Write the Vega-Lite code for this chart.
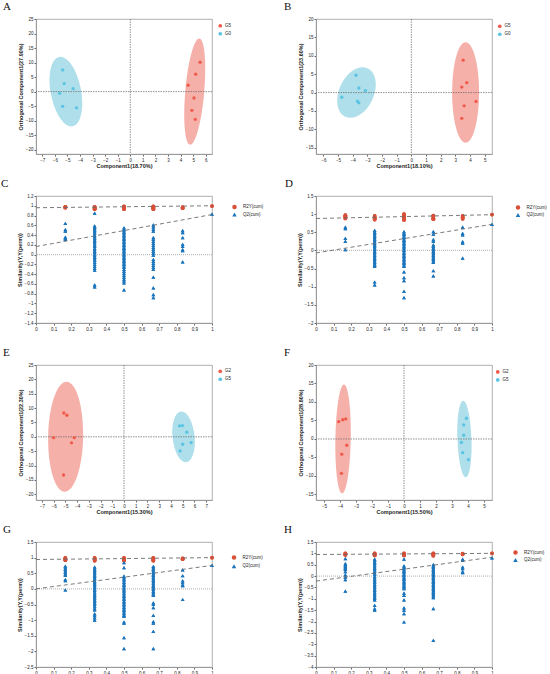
{
  "$schema": "https://vega.github.io/schema/vega-lite/v6.json",
  "description": "OPLS-DA score plots (A, B, E, F) and permutation tests (C, D, G, H).",
  "padding": {"left": 0, "top": 0, "right": 0, "bottom": 0},
  "columns": 2,
  "bounds": "flush",
  "spacing": {"row": 42, "column": 104},
  "resolve": {
    "scale": {"x": "independent", "y": "independent", "color": "independent", "shape": "independent"},
    "axis": {"x": "independent", "y": "independent"},
    "legend": {"color": "independent", "shape": "independent"}
  },
  "datasets": {
    "scores": [
      {"panel": "A", "group": "G5", "x": 5.55, "y": 10.1},
      {"panel": "A", "group": "G5", "x": 5.2, "y": 6.0},
      {"panel": "A", "group": "G5", "x": 4.6, "y": 2.2},
      {"panel": "A", "group": "G5", "x": 5.07, "y": -2.2},
      {"panel": "A", "group": "G5", "x": 4.9, "y": -6.45},
      {"panel": "A", "group": "G5", "x": 5.17, "y": -9.55},
      {"panel": "A", "group": "G0", "x": -5.38, "y": 7.45},
      {"panel": "A", "group": "G0", "x": -5.26, "y": 2.75},
      {"panel": "A", "group": "G0", "x": -4.55, "y": 1.0},
      {"panel": "A", "group": "G0", "x": -5.62, "y": -0.6},
      {"panel": "A", "group": "G0", "x": -5.38, "y": -5.07},
      {"panel": "A", "group": "G0", "x": -4.28, "y": -5.6},
      {"panel": "B", "group": "G5", "x": 3.53, "y": 8.8},
      {"panel": "B", "group": "G5", "x": 3.78, "y": 2.7},
      {"panel": "B", "group": "G5", "x": 3.44, "y": 1.5},
      {"panel": "B", "group": "G5", "x": 4.41, "y": -2.4},
      {"panel": "B", "group": "G5", "x": 3.6, "y": -3.6},
      {"panel": "B", "group": "G5", "x": 3.44, "y": -7.0},
      {"panel": "B", "group": "G0", "x": -3.77, "y": 4.7},
      {"panel": "B", "group": "G0", "x": -3.58, "y": 1.25},
      {"panel": "B", "group": "G0", "x": -3.13, "y": 0.55},
      {"panel": "B", "group": "G0", "x": -4.74, "y": -1.27},
      {"panel": "B", "group": "G0", "x": -3.67, "y": -2.35},
      {"panel": "B", "group": "G0", "x": -3.58, "y": -2.8},
      {"panel": "E", "group": "G2", "x": -5.13, "y": 8.3},
      {"panel": "E", "group": "G2", "x": -4.87, "y": 7.5},
      {"panel": "E", "group": "G2", "x": -6.0, "y": -0.3},
      {"panel": "E", "group": "G2", "x": -4.24, "y": -0.3},
      {"panel": "E", "group": "G2", "x": -4.47, "y": -2.1},
      {"panel": "E", "group": "G2", "x": -5.15, "y": -13.3},
      {"panel": "E", "group": "G5", "x": 4.73, "y": 3.8},
      {"panel": "E", "group": "G5", "x": 4.98, "y": 3.9},
      {"panel": "E", "group": "G5", "x": 5.35, "y": 1.6},
      {"panel": "E", "group": "G5", "x": 5.72, "y": -2.0},
      {"panel": "E", "group": "G5", "x": 5.0, "y": -2.6},
      {"panel": "E", "group": "G5", "x": 4.78, "y": -4.9},
      {"panel": "F", "group": "G2", "x": -4.08, "y": 4.7},
      {"panel": "F", "group": "G2", "x": -3.83, "y": 5.2},
      {"panel": "F", "group": "G2", "x": -3.64, "y": 5.4},
      {"panel": "F", "group": "G2", "x": -3.58, "y": -1.7},
      {"panel": "F", "group": "G2", "x": -3.89, "y": -4.1},
      {"panel": "F", "group": "G2", "x": -3.91, "y": -9.3},
      {"panel": "F", "group": "G5", "x": 3.9, "y": 5.6},
      {"panel": "F", "group": "G5", "x": 3.73, "y": 3.8},
      {"panel": "F", "group": "G5", "x": 3.73, "y": 1.0},
      {"panel": "F", "group": "G5", "x": 3.59, "y": -0.95},
      {"panel": "F", "group": "G5", "x": 3.67, "y": -3.7},
      {"panel": "F", "group": "G5", "x": 4.02, "y": -5.6}
    ],
    "ellipses": [
      {"panel": "A", "group": "G5", "x": 5.13, "y": 0},
      {"panel": "A", "group": "G0", "x": -5.12, "y": 0},
      {"panel": "B", "group": "G5", "x": 3.7, "y": 0},
      {"panel": "B", "group": "G0", "x": -3.74, "y": 0},
      {"panel": "E", "group": "G2", "x": -4.97, "y": 0},
      {"panel": "E", "group": "G5", "x": 5.08, "y": 0},
      {"panel": "F", "group": "G2", "x": -3.81, "y": 0},
      {"panel": "F", "group": "G5", "x": 3.78, "y": 0}
    ],
    "fits": [
      {"panel": "C", "series": "R2Y(cum)", "x": 0, "y": 0.96},
      {"panel": "C", "series": "R2Y(cum)", "x": 1, "y": 1.0},
      {"panel": "C", "series": "Q2(cum)", "x": 0, "y": 0.165},
      {"panel": "C", "series": "Q2(cum)", "x": 1, "y": 0.82},
      {"panel": "D", "series": "R2Y(cum)", "x": 0, "y": 0.88},
      {"panel": "D", "series": "R2Y(cum)", "x": 1, "y": 0.985},
      {"panel": "D", "series": "Q2(cum)", "x": 0, "y": -0.07},
      {"panel": "D", "series": "Q2(cum)", "x": 1, "y": 0.72},
      {"panel": "G", "series": "R2Y(cum)", "x": 0, "y": 0.94},
      {"panel": "G", "series": "R2Y(cum)", "x": 1, "y": 1.0},
      {"panel": "G", "series": "Q2(cum)", "x": 0, "y": 0.0},
      {"panel": "G", "series": "Q2(cum)", "x": 1, "y": 0.75},
      {"panel": "H", "series": "R2Y(cum)", "x": 0, "y": 0.95},
      {"panel": "H", "series": "R2Y(cum)", "x": 1, "y": 1.0},
      {"panel": "H", "series": "Q2(cum)", "x": 0, "y": -0.22},
      {"panel": "H", "series": "Q2(cum)", "x": 1, "y": 0.83}
    ],
    "perm": [
      {"panel": "C", "series": "R2Y(cum)", "x": 0.1667, "y": 0.98},
      {"panel": "C", "series": "R2Y(cum)", "x": 0.1667, "y": 0.97},
      {"panel": "C", "series": "R2Y(cum)", "x": 0.1667, "y": 0.96},
      {"panel": "C", "series": "R2Y(cum)", "x": 0.3333, "y": 0.98},
      {"panel": "C", "series": "R2Y(cum)", "x": 0.3333, "y": 0.96},
      {"panel": "C", "series": "R2Y(cum)", "x": 0.3333, "y": 0.95},
      {"panel": "C", "series": "R2Y(cum)", "x": 0.3333, "y": 0.93},
      {"panel": "C", "series": "R2Y(cum)", "x": 0.5, "y": 0.99},
      {"panel": "C", "series": "R2Y(cum)", "x": 0.5, "y": 0.97},
      {"panel": "C", "series": "R2Y(cum)", "x": 0.5, "y": 0.95},
      {"panel": "C", "series": "R2Y(cum)", "x": 0.5, "y": 0.93},
      {"panel": "C", "series": "R2Y(cum)", "x": 0.6667, "y": 0.99},
      {"panel": "C", "series": "R2Y(cum)", "x": 0.6667, "y": 0.97},
      {"panel": "C", "series": "R2Y(cum)", "x": 0.6667, "y": 0.95},
      {"panel": "C", "series": "R2Y(cum)", "x": 0.6667, "y": 0.93},
      {"panel": "C", "series": "R2Y(cum)", "x": 0.8333, "y": 0.97},
      {"panel": "C", "series": "R2Y(cum)", "x": 0.8333, "y": 0.95},
      {"panel": "C", "series": "R2Y(cum)", "x": 1, "y": 0.995},
      {"panel": "C", "series": "Q2(cum)", "x": 0.1667, "y": 0.64},
      {"panel": "C", "series": "Q2(cum)", "x": 0.1667, "y": 0.51},
      {"panel": "C", "series": "Q2(cum)", "x": 0.1667, "y": 0.48},
      {"panel": "C", "series": "Q2(cum)", "x": 0.1667, "y": 0.36},
      {"panel": "C", "series": "Q2(cum)", "x": 0.1667, "y": 0.33},
      {"panel": "C", "series": "Q2(cum)", "x": 0.1667, "y": 0.31},
      {"panel": "C", "series": "Q2(cum)", "x": 0.3333, "y": 0.85},
      {"panel": "C", "series": "Q2(cum)", "x": 0.3333, "y": 0.59},
      {"panel": "C", "series": "Q2(cum)", "x": 0.3333, "y": 0.56},
      {"panel": "C", "series": "Q2(cum)", "x": 0.3333, "y": 0.53},
      {"panel": "C", "series": "Q2(cum)", "x": 0.3333, "y": 0.5},
      {"panel": "C", "series": "Q2(cum)", "x": 0.3333, "y": 0.47},
      {"panel": "C", "series": "Q2(cum)", "x": 0.3333, "y": 0.44},
      {"panel": "C", "series": "Q2(cum)", "x": 0.3333, "y": 0.4},
      {"panel": "C", "series": "Q2(cum)", "x": 0.3333, "y": 0.37},
      {"panel": "C", "series": "Q2(cum)", "x": 0.3333, "y": 0.34},
      {"panel": "C", "series": "Q2(cum)", "x": 0.3333, "y": 0.3},
      {"panel": "C", "series": "Q2(cum)", "x": 0.3333, "y": 0.27},
      {"panel": "C", "series": "Q2(cum)", "x": 0.3333, "y": 0.24},
      {"panel": "C", "series": "Q2(cum)", "x": 0.3333, "y": 0.2},
      {"panel": "C", "series": "Q2(cum)", "x": 0.3333, "y": 0.17},
      {"panel": "C", "series": "Q2(cum)", "x": 0.3333, "y": 0.13},
      {"panel": "C", "series": "Q2(cum)", "x": 0.3333, "y": 0.1},
      {"panel": "C", "series": "Q2(cum)", "x": 0.3333, "y": 0.07},
      {"panel": "C", "series": "Q2(cum)", "x": 0.3333, "y": 0.04},
      {"panel": "C", "series": "Q2(cum)", "x": 0.3333, "y": 0.01},
      {"panel": "C", "series": "Q2(cum)", "x": 0.3333, "y": -0.02},
      {"panel": "C", "series": "Q2(cum)", "x": 0.3333, "y": -0.05},
      {"panel": "C", "series": "Q2(cum)", "x": 0.3333, "y": -0.08},
      {"panel": "C", "series": "Q2(cum)", "x": 0.3333, "y": -0.12},
      {"panel": "C", "series": "Q2(cum)", "x": 0.3333, "y": -0.16},
      {"panel": "C", "series": "Q2(cum)", "x": 0.3333, "y": -0.2},
      {"panel": "C", "series": "Q2(cum)", "x": 0.3333, "y": -0.24},
      {"panel": "C", "series": "Q2(cum)", "x": 0.3333, "y": -0.28},
      {"panel": "C", "series": "Q2(cum)", "x": 0.3333, "y": -0.32},
      {"panel": "C", "series": "Q2(cum)", "x": 0.3333, "y": -0.62},
      {"panel": "C", "series": "Q2(cum)", "x": 0.3333, "y": -0.66},
      {"panel": "C", "series": "Q2(cum)", "x": 0.5, "y": 0.55},
      {"panel": "C", "series": "Q2(cum)", "x": 0.5, "y": 0.52},
      {"panel": "C", "series": "Q2(cum)", "x": 0.5, "y": 0.49},
      {"panel": "C", "series": "Q2(cum)", "x": 0.5, "y": 0.46},
      {"panel": "C", "series": "Q2(cum)", "x": 0.5, "y": 0.43},
      {"panel": "C", "series": "Q2(cum)", "x": 0.5, "y": 0.4},
      {"panel": "C", "series": "Q2(cum)", "x": 0.5, "y": 0.37},
      {"panel": "C", "series": "Q2(cum)", "x": 0.5, "y": 0.34},
      {"panel": "C", "series": "Q2(cum)", "x": 0.5, "y": 0.31},
      {"panel": "C", "series": "Q2(cum)", "x": 0.5, "y": 0.28},
      {"panel": "C", "series": "Q2(cum)", "x": 0.5, "y": 0.25},
      {"panel": "C", "series": "Q2(cum)", "x": 0.5, "y": 0.22},
      {"panel": "C", "series": "Q2(cum)", "x": 0.5, "y": 0.19},
      {"panel": "C", "series": "Q2(cum)", "x": 0.5, "y": 0.16},
      {"panel": "C", "series": "Q2(cum)", "x": 0.5, "y": 0.13},
      {"panel": "C", "series": "Q2(cum)", "x": 0.5, "y": 0.1},
      {"panel": "C", "series": "Q2(cum)", "x": 0.5, "y": 0.07},
      {"panel": "C", "series": "Q2(cum)", "x": 0.5, "y": 0.04},
      {"panel": "C", "series": "Q2(cum)", "x": 0.5, "y": 0.01},
      {"panel": "C", "series": "Q2(cum)", "x": 0.5, "y": -0.02},
      {"panel": "C", "series": "Q2(cum)", "x": 0.5, "y": -0.05},
      {"panel": "C", "series": "Q2(cum)", "x": 0.5, "y": -0.08},
      {"panel": "C", "series": "Q2(cum)", "x": 0.5, "y": -0.11},
      {"panel": "C", "series": "Q2(cum)", "x": 0.5, "y": -0.14},
      {"panel": "C", "series": "Q2(cum)", "x": 0.5, "y": -0.17},
      {"panel": "C", "series": "Q2(cum)", "x": 0.5, "y": -0.2},
      {"panel": "C", "series": "Q2(cum)", "x": 0.5, "y": -0.23},
      {"panel": "C", "series": "Q2(cum)", "x": 0.5, "y": -0.26},
      {"panel": "C", "series": "Q2(cum)", "x": 0.5, "y": -0.3},
      {"panel": "C", "series": "Q2(cum)", "x": 0.5, "y": -0.34},
      {"panel": "C", "series": "Q2(cum)", "x": 0.5, "y": -0.38},
      {"panel": "C", "series": "Q2(cum)", "x": 0.5, "y": -0.42},
      {"panel": "C", "series": "Q2(cum)", "x": 0.5, "y": -0.46},
      {"panel": "C", "series": "Q2(cum)", "x": 0.5, "y": -0.5},
      {"panel": "C", "series": "Q2(cum)", "x": 0.5, "y": -0.54},
      {"panel": "C", "series": "Q2(cum)", "x": 0.5, "y": -0.58},
      {"panel": "C", "series": "Q2(cum)", "x": 0.5, "y": -0.72},
      {"panel": "C", "series": "Q2(cum)", "x": 0.6667, "y": 0.61},
      {"panel": "C", "series": "Q2(cum)", "x": 0.6667, "y": 0.57},
      {"panel": "C", "series": "Q2(cum)", "x": 0.6667, "y": 0.52},
      {"panel": "C", "series": "Q2(cum)", "x": 0.6667, "y": 0.48},
      {"panel": "C", "series": "Q2(cum)", "x": 0.6667, "y": 0.35},
      {"panel": "C", "series": "Q2(cum)", "x": 0.6667, "y": 0.31},
      {"panel": "C", "series": "Q2(cum)", "x": 0.6667, "y": 0.27},
      {"panel": "C", "series": "Q2(cum)", "x": 0.6667, "y": 0.23},
      {"panel": "C", "series": "Q2(cum)", "x": 0.6667, "y": 0.19},
      {"panel": "C", "series": "Q2(cum)", "x": 0.6667, "y": 0.15},
      {"panel": "C", "series": "Q2(cum)", "x": 0.6667, "y": 0.11},
      {"panel": "C", "series": "Q2(cum)", "x": 0.6667, "y": 0.07},
      {"panel": "C", "series": "Q2(cum)", "x": 0.6667, "y": 0.03},
      {"panel": "C", "series": "Q2(cum)", "x": 0.6667, "y": -0.01},
      {"panel": "C", "series": "Q2(cum)", "x": 0.6667, "y": -0.1},
      {"panel": "C", "series": "Q2(cum)", "x": 0.6667, "y": -0.14},
      {"panel": "C", "series": "Q2(cum)", "x": 0.6667, "y": -0.18},
      {"panel": "C", "series": "Q2(cum)", "x": 0.6667, "y": -0.22},
      {"panel": "C", "series": "Q2(cum)", "x": 0.6667, "y": -0.26},
      {"panel": "C", "series": "Q2(cum)", "x": 0.6667, "y": -0.3},
      {"panel": "C", "series": "Q2(cum)", "x": 0.6667, "y": -0.46},
      {"panel": "C", "series": "Q2(cum)", "x": 0.6667, "y": -0.68},
      {"panel": "C", "series": "Q2(cum)", "x": 0.6667, "y": -0.82},
      {"panel": "C", "series": "Q2(cum)", "x": 0.6667, "y": -0.88},
      {"panel": "C", "series": "Q2(cum)", "x": 0.8333, "y": 0.49},
      {"panel": "C", "series": "Q2(cum)", "x": 0.8333, "y": 0.45},
      {"panel": "C", "series": "Q2(cum)", "x": 0.8333, "y": 0.35},
      {"panel": "C", "series": "Q2(cum)", "x": 0.8333, "y": 0.21},
      {"panel": "C", "series": "Q2(cum)", "x": 0.8333, "y": 0.17},
      {"panel": "C", "series": "Q2(cum)", "x": 0.8333, "y": 0.1},
      {"panel": "C", "series": "Q2(cum)", "x": 0.8333, "y": 0.08},
      {"panel": "C", "series": "Q2(cum)", "x": 0.8333, "y": -0.15},
      {"panel": "C", "series": "Q2(cum)", "x": 1, "y": 0.83},

      {"panel": "D", "series": "R2Y(cum)", "x": 0.1667, "y": 0.97},
      {"panel": "D", "series": "R2Y(cum)", "x": 0.1667, "y": 0.94},
      {"panel": "D", "series": "R2Y(cum)", "x": 0.1667, "y": 0.91},
      {"panel": "D", "series": "R2Y(cum)", "x": 0.1667, "y": 0.88},
      {"panel": "D", "series": "R2Y(cum)", "x": 0.3333, "y": 0.95},
      {"panel": "D", "series": "R2Y(cum)", "x": 0.3333, "y": 0.91},
      {"panel": "D", "series": "R2Y(cum)", "x": 0.3333, "y": 0.88},
      {"panel": "D", "series": "R2Y(cum)", "x": 0.3333, "y": 0.85},
      {"panel": "D", "series": "R2Y(cum)", "x": 0.5, "y": 1.0},
      {"panel": "D", "series": "R2Y(cum)", "x": 0.5, "y": 0.96},
      {"panel": "D", "series": "R2Y(cum)", "x": 0.5, "y": 0.92},
      {"panel": "D", "series": "R2Y(cum)", "x": 0.5, "y": 0.88},
      {"panel": "D", "series": "R2Y(cum)", "x": 0.5, "y": 0.84},
      {"panel": "D", "series": "R2Y(cum)", "x": 0.6667, "y": 0.96},
      {"panel": "D", "series": "R2Y(cum)", "x": 0.6667, "y": 0.93},
      {"panel": "D", "series": "R2Y(cum)", "x": 0.6667, "y": 0.89},
      {"panel": "D", "series": "R2Y(cum)", "x": 0.6667, "y": 0.86},
      {"panel": "D", "series": "R2Y(cum)", "x": 0.8333, "y": 0.95},
      {"panel": "D", "series": "R2Y(cum)", "x": 0.8333, "y": 0.91},
      {"panel": "D", "series": "R2Y(cum)", "x": 0.8333, "y": 0.87},
      {"panel": "D", "series": "R2Y(cum)", "x": 1, "y": 0.99},
      {"panel": "D", "series": "Q2(cum)", "x": 0.1667, "y": 0.64},
      {"panel": "D", "series": "Q2(cum)", "x": 0.1667, "y": 0.6},
      {"panel": "D", "series": "Q2(cum)", "x": 0.1667, "y": 0.33},
      {"panel": "D", "series": "Q2(cum)", "x": 0.1667, "y": 0.25},
      {"panel": "D", "series": "Q2(cum)", "x": 0.1667, "y": 0.02},
      {"panel": "D", "series": "Q2(cum)", "x": 0.3333, "y": 0.55},
      {"panel": "D", "series": "Q2(cum)", "x": 0.3333, "y": 0.51},
      {"panel": "D", "series": "Q2(cum)", "x": 0.3333, "y": 0.47},
      {"panel": "D", "series": "Q2(cum)", "x": 0.3333, "y": 0.43},
      {"panel": "D", "series": "Q2(cum)", "x": 0.3333, "y": 0.39},
      {"panel": "D", "series": "Q2(cum)", "x": 0.3333, "y": 0.35},
      {"panel": "D", "series": "Q2(cum)", "x": 0.3333, "y": 0.31},
      {"panel": "D", "series": "Q2(cum)", "x": 0.3333, "y": 0.27},
      {"panel": "D", "series": "Q2(cum)", "x": 0.3333, "y": 0.23},
      {"panel": "D", "series": "Q2(cum)", "x": 0.3333, "y": 0.19},
      {"panel": "D", "series": "Q2(cum)", "x": 0.3333, "y": 0.15},
      {"panel": "D", "series": "Q2(cum)", "x": 0.3333, "y": 0.11},
      {"panel": "D", "series": "Q2(cum)", "x": 0.3333, "y": 0.07},
      {"panel": "D", "series": "Q2(cum)", "x": 0.3333, "y": 0.03},
      {"panel": "D", "series": "Q2(cum)", "x": 0.3333, "y": -0.01},
      {"panel": "D", "series": "Q2(cum)", "x": 0.3333, "y": -0.05},
      {"panel": "D", "series": "Q2(cum)", "x": 0.3333, "y": -0.09},
      {"panel": "D", "series": "Q2(cum)", "x": 0.3333, "y": -0.13},
      {"panel": "D", "series": "Q2(cum)", "x": 0.3333, "y": -0.17},
      {"panel": "D", "series": "Q2(cum)", "x": 0.3333, "y": -0.21},
      {"panel": "D", "series": "Q2(cum)", "x": 0.3333, "y": -0.25},
      {"panel": "D", "series": "Q2(cum)", "x": 0.3333, "y": -0.29},
      {"panel": "D", "series": "Q2(cum)", "x": 0.3333, "y": -0.33},
      {"panel": "D", "series": "Q2(cum)", "x": 0.3333, "y": -0.37},
      {"panel": "D", "series": "Q2(cum)", "x": 0.3333, "y": -0.41},
      {"panel": "D", "series": "Q2(cum)", "x": 0.3333, "y": -0.44},
      {"panel": "D", "series": "Q2(cum)", "x": 0.3333, "y": -0.87},
      {"panel": "D", "series": "Q2(cum)", "x": 0.3333, "y": -0.95},
      {"panel": "D", "series": "Q2(cum)", "x": 0.5, "y": 0.52},
      {"panel": "D", "series": "Q2(cum)", "x": 0.5, "y": 0.48},
      {"panel": "D", "series": "Q2(cum)", "x": 0.5, "y": 0.44},
      {"panel": "D", "series": "Q2(cum)", "x": 0.5, "y": 0.4},
      {"panel": "D", "series": "Q2(cum)", "x": 0.5, "y": 0.36},
      {"panel": "D", "series": "Q2(cum)", "x": 0.5, "y": 0.32},
      {"panel": "D", "series": "Q2(cum)", "x": 0.5, "y": 0.28},
      {"panel": "D", "series": "Q2(cum)", "x": 0.5, "y": 0.24},
      {"panel": "D", "series": "Q2(cum)", "x": 0.5, "y": 0.2},
      {"panel": "D", "series": "Q2(cum)", "x": 0.5, "y": 0.16},
      {"panel": "D", "series": "Q2(cum)", "x": 0.5, "y": 0.12},
      {"panel": "D", "series": "Q2(cum)", "x": 0.5, "y": 0.08},
      {"panel": "D", "series": "Q2(cum)", "x": 0.5, "y": 0.04},
      {"panel": "D", "series": "Q2(cum)", "x": 0.5, "y": 0.0},
      {"panel": "D", "series": "Q2(cum)", "x": 0.5, "y": -0.04},
      {"panel": "D", "series": "Q2(cum)", "x": 0.5, "y": -0.08},
      {"panel": "D", "series": "Q2(cum)", "x": 0.5, "y": -0.12},
      {"panel": "D", "series": "Q2(cum)", "x": 0.5, "y": -0.16},
      {"panel": "D", "series": "Q2(cum)", "x": 0.5, "y": -0.2},
      {"panel": "D", "series": "Q2(cum)", "x": 0.5, "y": -0.24},
      {"panel": "D", "series": "Q2(cum)", "x": 0.5, "y": -0.28},
      {"panel": "D", "series": "Q2(cum)", "x": 0.5, "y": -0.32},
      {"panel": "D", "series": "Q2(cum)", "x": 0.5, "y": -0.36},
      {"panel": "D", "series": "Q2(cum)", "x": 0.5, "y": -0.4},
      {"panel": "D", "series": "Q2(cum)", "x": 0.5, "y": -0.44},
      {"panel": "D", "series": "Q2(cum)", "x": 0.5, "y": -0.59},
      {"panel": "D", "series": "Q2(cum)", "x": 0.5, "y": -0.75},
      {"panel": "D", "series": "Q2(cum)", "x": 0.5, "y": -0.83},
      {"panel": "D", "series": "Q2(cum)", "x": 0.5, "y": -1.13},
      {"panel": "D", "series": "Q2(cum)", "x": 0.5, "y": -1.3},
      {"panel": "D", "series": "Q2(cum)", "x": 0.6667, "y": 0.52},
      {"panel": "D", "series": "Q2(cum)", "x": 0.6667, "y": 0.45},
      {"panel": "D", "series": "Q2(cum)", "x": 0.6667, "y": 0.3},
      {"panel": "D", "series": "Q2(cum)", "x": 0.6667, "y": 0.25},
      {"panel": "D", "series": "Q2(cum)", "x": 0.6667, "y": 0.15},
      {"panel": "D", "series": "Q2(cum)", "x": 0.6667, "y": 0.11},
      {"panel": "D", "series": "Q2(cum)", "x": 0.6667, "y": 0.07},
      {"panel": "D", "series": "Q2(cum)", "x": 0.6667, "y": 0.03},
      {"panel": "D", "series": "Q2(cum)", "x": 0.6667, "y": -0.01},
      {"panel": "D", "series": "Q2(cum)", "x": 0.6667, "y": -0.05},
      {"panel": "D", "series": "Q2(cum)", "x": 0.6667, "y": -0.09},
      {"panel": "D", "series": "Q2(cum)", "x": 0.6667, "y": -0.13},
      {"panel": "D", "series": "Q2(cum)", "x": 0.6667, "y": -0.17},
      {"panel": "D", "series": "Q2(cum)", "x": 0.6667, "y": -0.21},
      {"panel": "D", "series": "Q2(cum)", "x": 0.6667, "y": -0.25},
      {"panel": "D", "series": "Q2(cum)", "x": 0.6667, "y": -0.29},
      {"panel": "D", "series": "Q2(cum)", "x": 0.6667, "y": -0.33},
      {"panel": "D", "series": "Q2(cum)", "x": 0.6667, "y": -0.56},
      {"panel": "D", "series": "Q2(cum)", "x": 0.6667, "y": -0.7},
      {"panel": "D", "series": "Q2(cum)", "x": 0.8333, "y": 0.64},
      {"panel": "D", "series": "Q2(cum)", "x": 0.8333, "y": 0.47},
      {"panel": "D", "series": "Q2(cum)", "x": 0.8333, "y": 0.43},
      {"panel": "D", "series": "Q2(cum)", "x": 0.8333, "y": 0.24},
      {"panel": "D", "series": "Q2(cum)", "x": 0.8333, "y": 0.2},
      {"panel": "D", "series": "Q2(cum)", "x": 0.8333, "y": -0.21},
      {"panel": "D", "series": "Q2(cum)", "x": 1, "y": 0.72},

      {"panel": "G", "series": "R2Y(cum)", "x": 0.1667, "y": 0.99},
      {"panel": "G", "series": "R2Y(cum)", "x": 0.1667, "y": 0.97},
      {"panel": "G", "series": "R2Y(cum)", "x": 0.1667, "y": 0.94},
      {"panel": "G", "series": "R2Y(cum)", "x": 0.1667, "y": 0.92},
      {"panel": "G", "series": "R2Y(cum)", "x": 0.3333, "y": 0.99},
      {"panel": "G", "series": "R2Y(cum)", "x": 0.3333, "y": 0.96},
      {"panel": "G", "series": "R2Y(cum)", "x": 0.3333, "y": 0.93},
      {"panel": "G", "series": "R2Y(cum)", "x": 0.3333, "y": 0.9},
      {"panel": "G", "series": "R2Y(cum)", "x": 0.5, "y": 0.99},
      {"panel": "G", "series": "R2Y(cum)", "x": 0.5, "y": 0.96},
      {"panel": "G", "series": "R2Y(cum)", "x": 0.5, "y": 0.93},
      {"panel": "G", "series": "R2Y(cum)", "x": 0.5, "y": 0.9},
      {"panel": "G", "series": "R2Y(cum)", "x": 0.6667, "y": 0.99},
      {"panel": "G", "series": "R2Y(cum)", "x": 0.6667, "y": 0.96},
      {"panel": "G", "series": "R2Y(cum)", "x": 0.6667, "y": 0.93},
      {"panel": "G", "series": "R2Y(cum)", "x": 0.6667, "y": 0.9},
      {"panel": "G", "series": "R2Y(cum)", "x": 0.8333, "y": 0.98},
      {"panel": "G", "series": "R2Y(cum)", "x": 0.8333, "y": 0.95},
      {"panel": "G", "series": "R2Y(cum)", "x": 1, "y": 1.0},
      {"panel": "G", "series": "Q2(cum)", "x": 0.1667, "y": 0.73},
      {"panel": "G", "series": "Q2(cum)", "x": 0.1667, "y": 0.68},
      {"panel": "G", "series": "Q2(cum)", "x": 0.1667, "y": 0.63},
      {"panel": "G", "series": "Q2(cum)", "x": 0.1667, "y": 0.58},
      {"panel": "G", "series": "Q2(cum)", "x": 0.1667, "y": 0.53},
      {"panel": "G", "series": "Q2(cum)", "x": 0.1667, "y": 0.48},
      {"panel": "G", "series": "Q2(cum)", "x": 0.1667, "y": 0.43},
      {"panel": "G", "series": "Q2(cum)", "x": 0.1667, "y": 0.3},
      {"panel": "G", "series": "Q2(cum)", "x": 0.1667, "y": 0.26},
      {"panel": "G", "series": "Q2(cum)", "x": 0.1667, "y": -0.03},
      {"panel": "G", "series": "Q2(cum)", "x": 0.3333, "y": 0.7},
      {"panel": "G", "series": "Q2(cum)", "x": 0.3333, "y": 0.65},
      {"panel": "G", "series": "Q2(cum)", "x": 0.3333, "y": 0.6},
      {"panel": "G", "series": "Q2(cum)", "x": 0.3333, "y": 0.55},
      {"panel": "G", "series": "Q2(cum)", "x": 0.3333, "y": 0.5},
      {"panel": "G", "series": "Q2(cum)", "x": 0.3333, "y": 0.45},
      {"panel": "G", "series": "Q2(cum)", "x": 0.3333, "y": 0.4},
      {"panel": "G", "series": "Q2(cum)", "x": 0.3333, "y": 0.35},
      {"panel": "G", "series": "Q2(cum)", "x": 0.3333, "y": 0.3},
      {"panel": "G", "series": "Q2(cum)", "x": 0.3333, "y": 0.25},
      {"panel": "G", "series": "Q2(cum)", "x": 0.3333, "y": 0.2},
      {"panel": "G", "series": "Q2(cum)", "x": 0.3333, "y": 0.15},
      {"panel": "G", "series": "Q2(cum)", "x": 0.3333, "y": 0.1},
      {"panel": "G", "series": "Q2(cum)", "x": 0.3333, "y": 0.05},
      {"panel": "G", "series": "Q2(cum)", "x": 0.3333, "y": 0.0},
      {"panel": "G", "series": "Q2(cum)", "x": 0.3333, "y": -0.05},
      {"panel": "G", "series": "Q2(cum)", "x": 0.3333, "y": -0.1},
      {"panel": "G", "series": "Q2(cum)", "x": 0.3333, "y": -0.15},
      {"panel": "G", "series": "Q2(cum)", "x": 0.3333, "y": -0.2},
      {"panel": "G", "series": "Q2(cum)", "x": 0.3333, "y": -0.25},
      {"panel": "G", "series": "Q2(cum)", "x": 0.3333, "y": -0.3},
      {"panel": "G", "series": "Q2(cum)", "x": 0.3333, "y": -0.35},
      {"panel": "G", "series": "Q2(cum)", "x": 0.3333, "y": -0.4},
      {"panel": "G", "series": "Q2(cum)", "x": 0.3333, "y": -0.45},
      {"panel": "G", "series": "Q2(cum)", "x": 0.3333, "y": -0.5},
      {"panel": "G", "series": "Q2(cum)", "x": 0.3333, "y": -0.55},
      {"panel": "G", "series": "Q2(cum)", "x": 0.3333, "y": -0.62},
      {"panel": "G", "series": "Q2(cum)", "x": 0.3333, "y": -0.67},
      {"panel": "G", "series": "Q2(cum)", "x": 0.3333, "y": -0.8},
      {"panel": "G", "series": "Q2(cum)", "x": 0.3333, "y": -0.86},
      {"panel": "G", "series": "Q2(cum)", "x": 0.3333, "y": -0.93},
      {"panel": "G", "series": "Q2(cum)", "x": 0.3333, "y": -1.0},
      {"panel": "G", "series": "Q2(cum)", "x": 0.5, "y": 0.84},
      {"panel": "G", "series": "Q2(cum)", "x": 0.5, "y": 0.68},
      {"panel": "G", "series": "Q2(cum)", "x": 0.5, "y": 0.41},
      {"panel": "G", "series": "Q2(cum)", "x": 0.5, "y": 0.36},
      {"panel": "G", "series": "Q2(cum)", "x": 0.5, "y": 0.31},
      {"panel": "G", "series": "Q2(cum)", "x": 0.5, "y": 0.26},
      {"panel": "G", "series": "Q2(cum)", "x": 0.5, "y": 0.21},
      {"panel": "G", "series": "Q2(cum)", "x": 0.5, "y": 0.16},
      {"panel": "G", "series": "Q2(cum)", "x": 0.5, "y": 0.11},
      {"panel": "G", "series": "Q2(cum)", "x": 0.5, "y": 0.06},
      {"panel": "G", "series": "Q2(cum)", "x": 0.5, "y": 0.01},
      {"panel": "G", "series": "Q2(cum)", "x": 0.5, "y": -0.04},
      {"panel": "G", "series": "Q2(cum)", "x": 0.5, "y": -0.09},
      {"panel": "G", "series": "Q2(cum)", "x": 0.5, "y": -0.14},
      {"panel": "G", "series": "Q2(cum)", "x": 0.5, "y": -0.19},
      {"panel": "G", "series": "Q2(cum)", "x": 0.5, "y": -0.24},
      {"panel": "G", "series": "Q2(cum)", "x": 0.5, "y": -0.29},
      {"panel": "G", "series": "Q2(cum)", "x": 0.5, "y": -0.34},
      {"panel": "G", "series": "Q2(cum)", "x": 0.5, "y": -0.39},
      {"panel": "G", "series": "Q2(cum)", "x": 0.5, "y": -0.44},
      {"panel": "G", "series": "Q2(cum)", "x": 0.5, "y": -0.49},
      {"panel": "G", "series": "Q2(cum)", "x": 0.5, "y": -0.54},
      {"panel": "G", "series": "Q2(cum)", "x": 0.5, "y": -0.59},
      {"panel": "G", "series": "Q2(cum)", "x": 0.5, "y": -0.64},
      {"panel": "G", "series": "Q2(cum)", "x": 0.5, "y": -0.69},
      {"panel": "G", "series": "Q2(cum)", "x": 0.5, "y": -0.74},
      {"panel": "G", "series": "Q2(cum)", "x": 0.5, "y": -0.79},
      {"panel": "G", "series": "Q2(cum)", "x": 0.5, "y": -0.84},
      {"panel": "G", "series": "Q2(cum)", "x": 0.5, "y": -0.88},
      {"panel": "G", "series": "Q2(cum)", "x": 0.5, "y": -1.06},
      {"panel": "G", "series": "Q2(cum)", "x": 0.5, "y": -1.1},
      {"panel": "G", "series": "Q2(cum)", "x": 0.5, "y": -1.56},
      {"panel": "G", "series": "Q2(cum)", "x": 0.5, "y": -1.91},
      {"panel": "G", "series": "Q2(cum)", "x": 0.6667, "y": 0.72},
      {"panel": "G", "series": "Q2(cum)", "x": 0.6667, "y": 0.68},
      {"panel": "G", "series": "Q2(cum)", "x": 0.6667, "y": 0.63},
      {"panel": "G", "series": "Q2(cum)", "x": 0.6667, "y": 0.58},
      {"panel": "G", "series": "Q2(cum)", "x": 0.6667, "y": 0.53},
      {"panel": "G", "series": "Q2(cum)", "x": 0.6667, "y": 0.48},
      {"panel": "G", "series": "Q2(cum)", "x": 0.6667, "y": 0.43},
      {"panel": "G", "series": "Q2(cum)", "x": 0.6667, "y": 0.38},
      {"panel": "G", "series": "Q2(cum)", "x": 0.6667, "y": 0.33},
      {"panel": "G", "series": "Q2(cum)", "x": 0.6667, "y": 0.28},
      {"panel": "G", "series": "Q2(cum)", "x": 0.6667, "y": 0.23},
      {"panel": "G", "series": "Q2(cum)", "x": 0.6667, "y": 0.18},
      {"panel": "G", "series": "Q2(cum)", "x": 0.6667, "y": 0.13},
      {"panel": "G", "series": "Q2(cum)", "x": 0.6667, "y": 0.08},
      {"panel": "G", "series": "Q2(cum)", "x": 0.6667, "y": 0.03},
      {"panel": "G", "series": "Q2(cum)", "x": 0.6667, "y": -0.02},
      {"panel": "G", "series": "Q2(cum)", "x": 0.6667, "y": -0.07},
      {"panel": "G", "series": "Q2(cum)", "x": 0.6667, "y": -0.12},
      {"panel": "G", "series": "Q2(cum)", "x": 0.6667, "y": -0.17},
      {"panel": "G", "series": "Q2(cum)", "x": 0.6667, "y": -0.21},
      {"panel": "G", "series": "Q2(cum)", "x": 0.6667, "y": -0.45},
      {"panel": "G", "series": "Q2(cum)", "x": 0.6667, "y": -0.5},
      {"panel": "G", "series": "Q2(cum)", "x": 0.6667, "y": -0.6},
      {"panel": "G", "series": "Q2(cum)", "x": 0.6667, "y": -0.85},
      {"panel": "G", "series": "Q2(cum)", "x": 0.6667, "y": -1.05},
      {"panel": "G", "series": "Q2(cum)", "x": 0.6667, "y": -1.1},
      {"panel": "G", "series": "Q2(cum)", "x": 0.6667, "y": -1.36},
      {"panel": "G", "series": "Q2(cum)", "x": 0.6667, "y": -1.91},
      {"panel": "G", "series": "Q2(cum)", "x": 0.8333, "y": 0.61},
      {"panel": "G", "series": "Q2(cum)", "x": 0.8333, "y": 0.42},
      {"panel": "G", "series": "Q2(cum)", "x": 0.8333, "y": 0.26},
      {"panel": "G", "series": "Q2(cum)", "x": 0.8333, "y": 0.2},
      {"panel": "G", "series": "Q2(cum)", "x": 0.8333, "y": 0.13},
      {"panel": "G", "series": "Q2(cum)", "x": 0.8333, "y": 0.1},
      {"panel": "G", "series": "Q2(cum)", "x": 0.8333, "y": -0.34},
      {"panel": "G", "series": "Q2(cum)", "x": 1, "y": 0.75},

      {"panel": "H", "series": "R2Y(cum)", "x": 0.1667, "y": 1.0},
      {"panel": "H", "series": "R2Y(cum)", "x": 0.1667, "y": 0.96},
      {"panel": "H", "series": "R2Y(cum)", "x": 0.1667, "y": 0.93},
      {"panel": "H", "series": "R2Y(cum)", "x": 0.3333, "y": 1.0},
      {"panel": "H", "series": "R2Y(cum)", "x": 0.3333, "y": 0.97},
      {"panel": "H", "series": "R2Y(cum)", "x": 0.3333, "y": 0.94},
      {"panel": "H", "series": "R2Y(cum)", "x": 0.3333, "y": 0.91},
      {"panel": "H", "series": "R2Y(cum)", "x": 0.5, "y": 1.0},
      {"panel": "H", "series": "R2Y(cum)", "x": 0.5, "y": 0.97},
      {"panel": "H", "series": "R2Y(cum)", "x": 0.5, "y": 0.94},
      {"panel": "H", "series": "R2Y(cum)", "x": 0.5, "y": 0.91},
      {"panel": "H", "series": "R2Y(cum)", "x": 0.6667, "y": 1.0},
      {"panel": "H", "series": "R2Y(cum)", "x": 0.6667, "y": 0.97},
      {"panel": "H", "series": "R2Y(cum)", "x": 0.6667, "y": 0.93},
      {"panel": "H", "series": "R2Y(cum)", "x": 0.6667, "y": 0.9},
      {"panel": "H", "series": "R2Y(cum)", "x": 0.8333, "y": 0.99},
      {"panel": "H", "series": "R2Y(cum)", "x": 0.8333, "y": 0.96},
      {"panel": "H", "series": "R2Y(cum)", "x": 1, "y": 1.0},
      {"panel": "H", "series": "Q2(cum)", "x": 0.1667, "y": 0.77},
      {"panel": "H", "series": "Q2(cum)", "x": 0.1667, "y": 0.55},
      {"panel": "H", "series": "Q2(cum)", "x": 0.1667, "y": 0.5},
      {"panel": "H", "series": "Q2(cum)", "x": 0.1667, "y": 0.45},
      {"panel": "H", "series": "Q2(cum)", "x": 0.1667, "y": 0.4},
      {"panel": "H", "series": "Q2(cum)", "x": 0.1667, "y": 0.35},
      {"panel": "H", "series": "Q2(cum)", "x": 0.1667, "y": 0.3},
      {"panel": "H", "series": "Q2(cum)", "x": 0.1667, "y": 0.2},
      {"panel": "H", "series": "Q2(cum)", "x": 0.1667, "y": 0.05},
      {"panel": "H", "series": "Q2(cum)", "x": 0.1667, "y": -0.05},
      {"panel": "H", "series": "Q2(cum)", "x": 0.1667, "y": -0.16},
      {"panel": "H", "series": "Q2(cum)", "x": 0.1667, "y": -0.66},
      {"panel": "H", "series": "Q2(cum)", "x": 0.3333, "y": 0.75},
      {"panel": "H", "series": "Q2(cum)", "x": 0.3333, "y": 0.7},
      {"panel": "H", "series": "Q2(cum)", "x": 0.3333, "y": 0.63},
      {"panel": "H", "series": "Q2(cum)", "x": 0.3333, "y": 0.56},
      {"panel": "H", "series": "Q2(cum)", "x": 0.3333, "y": 0.49},
      {"panel": "H", "series": "Q2(cum)", "x": 0.3333, "y": 0.42},
      {"panel": "H", "series": "Q2(cum)", "x": 0.3333, "y": 0.35},
      {"panel": "H", "series": "Q2(cum)", "x": 0.3333, "y": 0.28},
      {"panel": "H", "series": "Q2(cum)", "x": 0.3333, "y": 0.21},
      {"panel": "H", "series": "Q2(cum)", "x": 0.3333, "y": 0.14},
      {"panel": "H", "series": "Q2(cum)", "x": 0.3333, "y": 0.07},
      {"panel": "H", "series": "Q2(cum)", "x": 0.3333, "y": 0.0},
      {"panel": "H", "series": "Q2(cum)", "x": 0.3333, "y": -0.07},
      {"panel": "H", "series": "Q2(cum)", "x": 0.3333, "y": -0.14},
      {"panel": "H", "series": "Q2(cum)", "x": 0.3333, "y": -0.21},
      {"panel": "H", "series": "Q2(cum)", "x": 0.3333, "y": -0.28},
      {"panel": "H", "series": "Q2(cum)", "x": 0.3333, "y": -0.35},
      {"panel": "H", "series": "Q2(cum)", "x": 0.3333, "y": -0.42},
      {"panel": "H", "series": "Q2(cum)", "x": 0.3333, "y": -0.49},
      {"panel": "H", "series": "Q2(cum)", "x": 0.3333, "y": -0.56},
      {"panel": "H", "series": "Q2(cum)", "x": 0.3333, "y": -0.63},
      {"panel": "H", "series": "Q2(cum)", "x": 0.3333, "y": -0.7},
      {"panel": "H", "series": "Q2(cum)", "x": 0.3333, "y": -0.77},
      {"panel": "H", "series": "Q2(cum)", "x": 0.3333, "y": -0.84},
      {"panel": "H", "series": "Q2(cum)", "x": 0.3333, "y": -0.91},
      {"panel": "H", "series": "Q2(cum)", "x": 0.3333, "y": -0.98},
      {"panel": "H", "series": "Q2(cum)", "x": 0.3333, "y": -1.05},
      {"panel": "H", "series": "Q2(cum)", "x": 0.3333, "y": -1.29},
      {"panel": "H", "series": "Q2(cum)", "x": 0.3333, "y": -1.43},
      {"panel": "H", "series": "Q2(cum)", "x": 0.3333, "y": -1.5},
      {"panel": "H", "series": "Q2(cum)", "x": 0.5, "y": 0.75},
      {"panel": "H", "series": "Q2(cum)", "x": 0.5, "y": 0.45},
      {"panel": "H", "series": "Q2(cum)", "x": 0.5, "y": 0.39},
      {"panel": "H", "series": "Q2(cum)", "x": 0.5, "y": 0.33},
      {"panel": "H", "series": "Q2(cum)", "x": 0.5, "y": 0.27},
      {"panel": "H", "series": "Q2(cum)", "x": 0.5, "y": 0.21},
      {"panel": "H", "series": "Q2(cum)", "x": 0.5, "y": 0.15},
      {"panel": "H", "series": "Q2(cum)", "x": 0.5, "y": 0.09},
      {"panel": "H", "series": "Q2(cum)", "x": 0.5, "y": 0.03},
      {"panel": "H", "series": "Q2(cum)", "x": 0.5, "y": -0.03},
      {"panel": "H", "series": "Q2(cum)", "x": 0.5, "y": -0.09},
      {"panel": "H", "series": "Q2(cum)", "x": 0.5, "y": -0.15},
      {"panel": "H", "series": "Q2(cum)", "x": 0.5, "y": -0.21},
      {"panel": "H", "series": "Q2(cum)", "x": 0.5, "y": -0.27},
      {"panel": "H", "series": "Q2(cum)", "x": 0.5, "y": -0.33},
      {"panel": "H", "series": "Q2(cum)", "x": 0.5, "y": -0.39},
      {"panel": "H", "series": "Q2(cum)", "x": 0.5, "y": -0.45},
      {"panel": "H", "series": "Q2(cum)", "x": 0.5, "y": -0.51},
      {"panel": "H", "series": "Q2(cum)", "x": 0.5, "y": -0.55},
      {"panel": "H", "series": "Q2(cum)", "x": 0.5, "y": -0.75},
      {"panel": "H", "series": "Q2(cum)", "x": 0.5, "y": -0.85},
      {"panel": "H", "series": "Q2(cum)", "x": 0.5, "y": -1.05},
      {"panel": "H", "series": "Q2(cum)", "x": 0.5, "y": -1.4},
      {"panel": "H", "series": "Q2(cum)", "x": 0.5, "y": -1.5},
      {"panel": "H", "series": "Q2(cum)", "x": 0.5, "y": -1.65},
      {"panel": "H", "series": "Q2(cum)", "x": 0.5, "y": -2.02},
      {"panel": "H", "series": "Q2(cum)", "x": 0.6667, "y": 0.5},
      {"panel": "H", "series": "Q2(cum)", "x": 0.6667, "y": 0.44},
      {"panel": "H", "series": "Q2(cum)", "x": 0.6667, "y": 0.38},
      {"panel": "H", "series": "Q2(cum)", "x": 0.6667, "y": 0.32},
      {"panel": "H", "series": "Q2(cum)", "x": 0.6667, "y": 0.26},
      {"panel": "H", "series": "Q2(cum)", "x": 0.6667, "y": 0.2},
      {"panel": "H", "series": "Q2(cum)", "x": 0.6667, "y": 0.14},
      {"panel": "H", "series": "Q2(cum)", "x": 0.6667, "y": 0.08},
      {"panel": "H", "series": "Q2(cum)", "x": 0.6667, "y": 0.02},
      {"panel": "H", "series": "Q2(cum)", "x": 0.6667, "y": -0.04},
      {"panel": "H", "series": "Q2(cum)", "x": 0.6667, "y": -0.1},
      {"panel": "H", "series": "Q2(cum)", "x": 0.6667, "y": -0.16},
      {"panel": "H", "series": "Q2(cum)", "x": 0.6667, "y": -0.22},
      {"panel": "H", "series": "Q2(cum)", "x": 0.6667, "y": -0.28},
      {"panel": "H", "series": "Q2(cum)", "x": 0.6667, "y": -0.34},
      {"panel": "H", "series": "Q2(cum)", "x": 0.6667, "y": -0.4},
      {"panel": "H", "series": "Q2(cum)", "x": 0.6667, "y": -0.46},
      {"panel": "H", "series": "Q2(cum)", "x": 0.6667, "y": -0.52},
      {"panel": "H", "series": "Q2(cum)", "x": 0.6667, "y": -0.58},
      {"panel": "H", "series": "Q2(cum)", "x": 0.6667, "y": -0.64},
      {"panel": "H", "series": "Q2(cum)", "x": 0.6667, "y": -0.7},
      {"panel": "H", "series": "Q2(cum)", "x": 0.6667, "y": -0.76},
      {"panel": "H", "series": "Q2(cum)", "x": 0.6667, "y": -0.82},
      {"panel": "H", "series": "Q2(cum)", "x": 0.6667, "y": -0.88},
      {"panel": "H", "series": "Q2(cum)", "x": 0.6667, "y": -0.95},
      {"panel": "H", "series": "Q2(cum)", "x": 0.6667, "y": -1.43},
      {"panel": "H", "series": "Q2(cum)", "x": 0.6667, "y": -2.83},
      {"panel": "H", "series": "Q2(cum)", "x": 0.8333, "y": 0.75},
      {"panel": "H", "series": "Q2(cum)", "x": 0.8333, "y": 0.7},
      {"panel": "H", "series": "Q2(cum)", "x": 0.8333, "y": 0.4},
      {"panel": "H", "series": "Q2(cum)", "x": 0.8333, "y": 0.33},
      {"panel": "H", "series": "Q2(cum)", "x": 0.8333, "y": 0.2},
      {"panel": "H", "series": "Q2(cum)", "x": 0.8333, "y": 0.15},
      {"panel": "H", "series": "Q2(cum)", "x": 1, "y": 0.8}
    ]
  },
  "concat": [
    {
      "title": {"text": "A", "dx": -33},
      "width": 176, "height": 135,
      "layer": [
        {"data": {"name": "scores"}, "transform": [{"filter": "datum.panel === 'A'"}],
         "mark": {"type": "point", "filled": true, "size": 11, "opacity": 1},
         "encoding": {
           "x": {"field": "x", "type": "quantitative", "scale": {"domain": [-7.5, 6.5], "nice": false, "zero": false},
                 "axis": {"values": [-7, -6, -5, -4, -3, -2, -1, 0, 1, 2, 3, 4, 5, 6], "tickCount": 40, "format": "d", "labelOverlap": false, "title": "Component1(18.70%)"}},
           "y": {"field": "y", "type": "quantitative", "scale": {"domain": [-21.5, 25], "nice": false, "zero": false},
                 "axis": {"values": [-20, -15, -10, -5, 0, 5, 10, 15, 20, 25], "tickCount": 40, "format": "d", "labelOverlap": false, "title": "Orthogonal Component1(27.90%)"}},
           "color": {"field": "group", "type": "nominal", "scale": {"domain": ["G5", "G0"], "range": ["#EF5B4B", "#5BC4E2"]},
                     "legend": {"orient": "none", "legendX": 182, "legendY": 4.5, "title": null, "direction": "vertical", "labelOffset": 2.5}}
         }},
        {"data": {"name": "ellipses"}, "transform": [{"filter": "datum.panel === 'A' && datum.group === 'G5'"}],
         "mark": {"type": "point", "filled": true, "shape": "M0,-1A0.178,1 0 1,1 0,1A0.178,1 0 1,1 0,-1Z", "size": 11364, "angle": 5, "color": "#F6B0AA", "opacity": 1},
         "encoding": {"x": {"field": "x", "type": "quantitative"}, "y": {"field": "y", "type": "quantitative"}}},
        {"data": {"name": "ellipses"}, "transform": [{"filter": "datum.panel === 'A' && datum.group === 'G0'"}],
         "mark": {"type": "point", "filled": true, "shape": "M0,-1A0.43,1 0 1,1 0,1A0.43,1 0 1,1 0,-1Z", "size": 4984, "angle": -11, "color": "#AEDFEA", "opacity": 1},
         "encoding": {"x": {"field": "x", "type": "quantitative"}, "y": {"field": "y", "type": "quantitative"}}},
        {"data": {"values": [{}]}, "mark": {"type": "rule", "color": "#666", "strokeDash": [1.5, 1], "strokeWidth": 0.7},
         "encoding": {"y": {"datum": 0, "type": "quantitative"}}},
        {"data": {"values": [{}]}, "mark": {"type": "rule", "color": "#666", "strokeDash": [1.5, 1], "strokeWidth": 0.7},
         "encoding": {"x": {"datum": 0, "type": "quantitative"}}},
        {"data": {"name": "scores"}, "transform": [{"filter": "datum.panel === 'A'"}],
         "mark": {"type": "point", "filled": true, "size": 11, "opacity": 1},
         "encoding": {"x": {"field": "x", "type": "quantitative"}, "y": {"field": "y", "type": "quantitative"},
                      "color": {"field": "group", "type": "nominal"}}}
      ]
    },
    {
      "title": {"text": "B", "dx": -32},
      "width": 176, "height": 135,
      "layer": [
        {"data": {"name": "scores"}, "transform": [{"filter": "datum.panel === 'B'"}],
         "mark": {"type": "point", "filled": true, "size": 11, "opacity": 1},
         "encoding": {
           "x": {"field": "x", "type": "quantitative", "scale": {"domain": [-6.5, 5.5], "nice": false, "zero": false},
                 "axis": {"values": [-6, -5, -4, -3, -2, -1, 0, 1, 2, 3, 4, 5], "tickCount": 40, "format": "d", "labelOverlap": false, "title": "Component1(18.10%)"}},
           "y": {"field": "y", "type": "quantitative", "scale": {"domain": [-16.7, 20], "nice": false, "zero": false},
                 "axis": {"values": [-15, -10, -5, 0, 5, 10, 15, 20], "tickCount": 40, "format": "d", "labelOverlap": false, "title": "Orthogonal Component1(23.60%)"}},
           "color": {"field": "group", "type": "nominal", "scale": {"domain": ["G5", "G0"], "range": ["#EF5B4B", "#5BC4E2"]},
                     "legend": {"orient": "none", "legendX": 181.5, "legendY": 5, "title": null, "direction": "vertical", "labelOffset": 2.5}}
         }},
        {"data": {"name": "ellipses"}, "transform": [{"filter": "datum.panel === 'B' && datum.group === 'G5'"}],
         "mark": {"type": "point", "filled": true, "shape": "M0,-1A0.268,1 0 1,1 0,1A0.268,1 0 1,1 0,-1Z", "size": 10120, "angle": 0, "color": "#F6B0AA", "opacity": 1},
         "encoding": {"x": {"field": "x", "type": "quantitative"}, "y": {"field": "y", "type": "quantitative"}}},
        {"data": {"name": "ellipses"}, "transform": [{"filter": "datum.panel === 'B' && datum.group === 'G0'"}],
         "mark": {"type": "point", "filled": true, "shape": "M0,-1A0.65,1 0 1,1 0,1A0.65,1 0 1,1 0,-1Z", "size": 2830, "angle": 25, "color": "#AEDFEA", "opacity": 1},
         "encoding": {"x": {"field": "x", "type": "quantitative"}, "y": {"field": "y", "type": "quantitative"}}},
        {"data": {"values": [{}]}, "mark": {"type": "rule", "color": "#666", "strokeDash": [1.5, 1], "strokeWidth": 0.7},
         "encoding": {"y": {"datum": 0, "type": "quantitative"}}},
        {"data": {"values": [{}]}, "mark": {"type": "rule", "color": "#666", "strokeDash": [1.5, 1], "strokeWidth": 0.7},
         "encoding": {"x": {"datum": 0, "type": "quantitative"}}},
        {"data": {"name": "scores"}, "transform": [{"filter": "datum.panel === 'B'"}],
         "mark": {"type": "point", "filled": true, "size": 11, "opacity": 1},
         "encoding": {"x": {"field": "x", "type": "quantitative"}, "y": {"field": "y", "type": "quantitative"},
                      "color": {"field": "group", "type": "nominal"}}}
      ]
    },
    {
      "title": {"text": "C", "dx": -35},
      "width": 176, "height": 127,
      "layer": [
        {"data": {"name": "perm"}, "transform": [{"filter": "datum.panel === 'C'"}],
         "mark": {"type": "point", "filled": true, "size": 14, "opacity": 1},
         "encoding": {
           "x": {"field": "x", "type": "quantitative", "scale": {"domain": [0, 1], "nice": false, "zero": false},
                 "axis": {"values": [0, 0.1, 0.2, 0.3, 0.4, 0.5, 0.6, 0.7, 0.8, 0.9, 1], "tickCount": 40, "format": "~g", "labelOverlap": false, "title": null}},
           "y": {"field": "y", "type": "quantitative", "scale": {"domain": [-1.4, 1.2], "nice": false, "zero": false},
                 "axis": {"values": [-1.4, -1.2, -1, -0.8, -0.6, -0.4, -0.2, 0, 0.2, 0.4, 0.6, 0.8, 1, 1.2], "tickCount": 40, "format": "~g", "labelOverlap": false, "title": "Similarity(Y,Y(perm))"}},
           "color": {"field": "series", "type": "nominal", "scale": {"domain": ["R2Y(cum)", "Q2(cum)"], "range": ["#D94F37", "#1B75BC"]},
                     "legend": {"orient": "none", "legendX": 196, "legendY": 8.5, "title": null, "direction": "vertical", "symbolSize": 20, "labelOffset": 6, "rowPadding": 1.5}},
           "shape": {"field": "series", "type": "nominal", "scale": {"domain": ["R2Y(cum)", "Q2(cum)"], "range": ["circle", "triangle-up"]},
                     "legend": {"orient": "none", "legendX": 196, "legendY": 8.5, "title": null, "direction": "vertical", "symbolSize": 20, "labelOffset": 6, "rowPadding": 1.5}}
         }},
        {"data": {"values": [{}]}, "mark": {"type": "rule", "color": "#bdbdbd", "strokeDash": [1, 1], "strokeWidth": 1.3},
         "encoding": {"y": {"datum": 0, "type": "quantitative"}}},
        {"data": {"name": "perm"}, "transform": [{"filter": "datum.panel === 'C'"}],
         "mark": {"type": "point", "filled": true, "size": 14, "opacity": 1},
         "encoding": {"x": {"field": "x", "type": "quantitative"}, "y": {"field": "y", "type": "quantitative"},
                      "color": {"field": "series", "type": "nominal"}, "shape": {"field": "series", "type": "nominal"}}},
        {"data": {"name": "fits"}, "transform": [{"filter": "datum.panel === 'C'"}],
         "mark": {"type": "line", "color": "#6b6b6b", "strokeDash": [4, 3], "strokeWidth": 0.9},
         "encoding": {"x": {"field": "x", "type": "quantitative"}, "y": {"field": "y", "type": "quantitative"}, "detail": {"field": "series"}}}
      ]
    },
    {
      "title": {"text": "D", "dx": -31},
      "width": 176, "height": 127,
      "layer": [
        {"data": {"name": "perm"}, "transform": [{"filter": "datum.panel === 'D'"}],
         "mark": {"type": "point", "filled": true, "size": 14, "opacity": 1},
         "encoding": {
           "x": {"field": "x", "type": "quantitative", "scale": {"domain": [0, 1], "nice": false, "zero": false},
                 "axis": {"values": [0, 0.1, 0.2, 0.3, 0.4, 0.5, 0.6, 0.7, 0.8, 0.9, 1], "tickCount": 40, "format": "~g", "labelOverlap": false, "title": null}},
           "y": {"field": "y", "type": "quantitative", "scale": {"domain": [-2, 1.5], "nice": false, "zero": false},
                 "axis": {"values": [-2, -1.5, -1, -0.5, 0, 0.5, 1, 1.5], "tickCount": 40, "format": "~g", "labelOverlap": false, "title": "Similarity(Y,Y(perm))"}},
           "color": {"field": "series", "type": "nominal", "scale": {"domain": ["R2Y(cum)", "Q2(cum)"], "range": ["#D94F37", "#1B75BC"]},
                     "legend": {"orient": "none", "legendX": 199.5, "legendY": 9, "title": null, "direction": "vertical", "symbolSize": 20, "labelOffset": 6, "rowPadding": 1.5}},
           "shape": {"field": "series", "type": "nominal", "scale": {"domain": ["R2Y(cum)", "Q2(cum)"], "range": ["circle", "triangle-up"]},
                     "legend": {"orient": "none", "legendX": 199.5, "legendY": 9, "title": null, "direction": "vertical", "symbolSize": 20, "labelOffset": 6, "rowPadding": 1.5}}
         }},
        {"data": {"values": [{}]}, "mark": {"type": "rule", "color": "#bdbdbd", "strokeDash": [1, 1], "strokeWidth": 1.3},
         "encoding": {"y": {"datum": 0, "type": "quantitative"}}},
        {"data": {"name": "perm"}, "transform": [{"filter": "datum.panel === 'D'"}],
         "mark": {"type": "point", "filled": true, "size": 14, "opacity": 1},
         "encoding": {"x": {"field": "x", "type": "quantitative"}, "y": {"field": "y", "type": "quantitative"},
                      "color": {"field": "series", "type": "nominal"}, "shape": {"field": "series", "type": "nominal"}}},
        {"data": {"name": "fits"}, "transform": [{"filter": "datum.panel === 'D'"}],
         "mark": {"type": "line", "color": "#6b6b6b", "strokeDash": [4, 3], "strokeWidth": 0.9},
         "encoding": {"x": {"field": "x", "type": "quantitative"}, "y": {"field": "y", "type": "quantitative"}, "detail": {"field": "series"}}}
      ]
    },
    {
      "title": {"text": "E", "dx": -33},
      "width": 176, "height": 135,
      "layer": [
        {"data": {"name": "scores"}, "transform": [{"filter": "datum.panel === 'E'"}],
         "mark": {"type": "point", "filled": true, "size": 11, "opacity": 1},
         "encoding": {
           "x": {"field": "x", "type": "quantitative", "scale": {"domain": [-7.5, 7.5], "nice": false, "zero": false},
                 "axis": {"values": [-7, -6, -5, -4, -3, -2, -1, 0, 1, 2, 3, 4, 5, 6, 7], "tickCount": 40, "format": "d", "labelOverlap": false, "title": "Component1(15.30%)"}},
           "y": {"field": "y", "type": "quantitative", "scale": {"domain": [-22, 25], "nice": false, "zero": false},
                 "axis": {"values": [-20, -15, -10, -5, 0, 5, 10, 15, 20, 25], "tickCount": 40, "format": "d", "labelOverlap": false, "title": "Orthogonal Component1(22.30%)"}},
           "color": {"field": "group", "type": "nominal", "scale": {"domain": ["G2", "G5"], "range": ["#EF5B4B", "#5BC4E2"]},
                     "legend": {"orient": "none", "legendX": 182, "legendY": 4, "title": null, "direction": "vertical", "labelOffset": 2.5}}
         }},
        {"data": {"name": "ellipses"}, "transform": [{"filter": "datum.panel === 'E' && datum.group === 'G2'"}],
         "mark": {"type": "point", "filled": true, "shape": "M0,-1A0.318,1 0 1,1 0,1A0.318,1 0 1,1 0,-1Z", "size": 12100, "angle": 1, "color": "#F6B0AA", "opacity": 1},
         "encoding": {"x": {"field": "x", "type": "quantitative"}, "y": {"field": "y", "type": "quantitative"}}},
        {"data": {"name": "ellipses"}, "transform": [{"filter": "datum.panel === 'E' && datum.group === 'G5'"}],
         "mark": {"type": "point", "filled": true, "shape": "M0,-1A0.431,1 0 1,1 0,1A0.431,1 0 1,1 0,-1Z", "size": 2601, "angle": -6, "color": "#AEDFEA", "opacity": 1},
         "encoding": {"x": {"field": "x", "type": "quantitative"}, "y": {"field": "y", "type": "quantitative"}}},
        {"data": {"values": [{}]}, "mark": {"type": "rule", "color": "#666", "strokeDash": [1.5, 1], "strokeWidth": 0.7},
         "encoding": {"y": {"datum": 0, "type": "quantitative"}}},
        {"data": {"values": [{}]}, "mark": {"type": "rule", "color": "#666", "strokeDash": [1.5, 1], "strokeWidth": 0.7},
         "encoding": {"x": {"datum": 0, "type": "quantitative"}}},
        {"data": {"name": "scores"}, "transform": [{"filter": "datum.panel === 'E'"}],
         "mark": {"type": "point", "filled": true, "size": 11, "opacity": 1},
         "encoding": {"x": {"field": "x", "type": "quantitative"}, "y": {"field": "y", "type": "quantitative"},
                      "color": {"field": "group", "type": "nominal"}}}
      ]
    },
    {
      "title": {"text": "F", "dx": -32},
      "width": 176, "height": 135,
      "layer": [
        {"data": {"name": "scores"}, "transform": [{"filter": "datum.panel === 'F'"}],
         "mark": {"type": "point", "filled": true, "size": 11, "opacity": 1},
         "encoding": {
           "x": {"field": "x", "type": "quantitative", "scale": {"domain": [-5.5, 5.5], "nice": false, "zero": false},
                 "axis": {"values": [-5, -4, -3, -2, -1, 0, 1, 2, 3, 4, 5], "tickCount": 40, "format": "d", "labelOverlap": false, "title": "Component1(15.50%)"}},
           "y": {"field": "y", "type": "quantitative", "scale": {"domain": [-16.5, 20], "nice": false, "zero": false},
                 "axis": {"values": [-15, -10, -5, 0, 5, 10, 15, 20], "tickCount": 40, "format": "d", "labelOverlap": false, "title": "Orthogonal Component1(28.80%)"}},
           "color": {"field": "group", "type": "nominal", "scale": {"domain": ["G2", "G5"], "range": ["#EF5B4B", "#5BC4E2"]},
                     "legend": {"orient": "none", "legendX": 179.5, "legendY": 4.7, "title": null, "direction": "vertical", "labelOffset": 2.5}}
         }},
        {"data": {"name": "ellipses"}, "transform": [{"filter": "datum.panel === 'F' && datum.group === 'G2'"}],
         "mark": {"type": "point", "filled": true, "shape": "M0,-1A0.141,1 0 1,1 0,1A0.141,1 0 1,1 0,-1Z", "size": 11881, "angle": 1, "color": "#F6B0AA", "opacity": 1},
         "encoding": {"x": {"field": "x", "type": "quantitative"}, "y": {"field": "y", "type": "quantitative"}}},
        {"data": {"name": "ellipses"}, "transform": [{"filter": "datum.panel === 'F' && datum.group === 'G5'"}],
         "mark": {"type": "point", "filled": true, "shape": "M0,-1A0.183,1 0 1,1 0,1A0.183,1 0 1,1 0,-1Z", "size": 5868, "angle": -2, "color": "#AEDFEA", "opacity": 1},
         "encoding": {"x": {"field": "x", "type": "quantitative"}, "y": {"field": "y", "type": "quantitative"}}},
        {"data": {"values": [{}]}, "mark": {"type": "rule", "color": "#666", "strokeDash": [1.5, 1], "strokeWidth": 0.7},
         "encoding": {"y": {"datum": 0, "type": "quantitative"}}},
        {"data": {"values": [{}]}, "mark": {"type": "rule", "color": "#666", "strokeDash": [1.5, 1], "strokeWidth": 0.7},
         "encoding": {"x": {"datum": 0, "type": "quantitative"}}},
        {"data": {"name": "scores"}, "transform": [{"filter": "datum.panel === 'F'"}],
         "mark": {"type": "point", "filled": true, "size": 11, "opacity": 1},
         "encoding": {"x": {"field": "x", "type": "quantitative"}, "y": {"field": "y", "type": "quantitative"},
                      "color": {"field": "group", "type": "nominal"}}}
      ]
    },
    {
      "title": {"text": "G", "dx": -33},
      "width": 176, "height": 125,
      "layer": [
        {"data": {"name": "perm"}, "transform": [{"filter": "datum.panel === 'G'"}],
         "mark": {"type": "point", "filled": true, "size": 14, "opacity": 1},
         "encoding": {
           "x": {"field": "x", "type": "quantitative", "scale": {"domain": [0, 1], "nice": false, "zero": false},
                 "axis": {"values": [0, 0.1, 0.2, 0.3, 0.4, 0.5, 0.6, 0.7, 0.8, 0.9, 1], "tickCount": 40, "format": "~g", "labelOverlap": false, "title": null}},
           "y": {"field": "y", "type": "quantitative", "scale": {"domain": [-2.5, 1.5], "nice": false, "zero": false},
                 "axis": {"values": [-2.5, -2, -1.5, -1, -0.5, 0, 0.5, 1, 1.5], "tickCount": 40, "format": "~g", "labelOverlap": false, "title": "Similarity(Y,Y(perm))"}},
           "color": {"field": "series", "type": "nominal", "scale": {"domain": ["R2Y(cum)", "Q2(cum)"], "range": ["#D94F37", "#1B75BC"]},
                     "legend": {"orient": "none", "legendX": 195.5, "legendY": 13, "title": null, "direction": "vertical", "symbolSize": 20, "labelOffset": 6, "rowPadding": 2.7}},
           "shape": {"field": "series", "type": "nominal", "scale": {"domain": ["R2Y(cum)", "Q2(cum)"], "range": ["circle", "triangle-up"]},
                     "legend": {"orient": "none", "legendX": 195.5, "legendY": 13, "title": null, "direction": "vertical", "symbolSize": 20, "labelOffset": 6, "rowPadding": 2.7}}
         }},
        {"data": {"values": [{}]}, "mark": {"type": "rule", "color": "#bdbdbd", "strokeDash": [1, 1], "strokeWidth": 1.3},
         "encoding": {"y": {"datum": 0, "type": "quantitative"}}},
        {"data": {"name": "perm"}, "transform": [{"filter": "datum.panel === 'G'"}],
         "mark": {"type": "point", "filled": true, "size": 14, "opacity": 1},
         "encoding": {"x": {"field": "x", "type": "quantitative"}, "y": {"field": "y", "type": "quantitative"},
                      "color": {"field": "series", "type": "nominal"}, "shape": {"field": "series", "type": "nominal"}}},
        {"data": {"name": "fits"}, "transform": [{"filter": "datum.panel === 'G'"}],
         "mark": {"type": "line", "color": "#6b6b6b", "strokeDash": [4, 3], "strokeWidth": 0.9},
         "encoding": {"x": {"field": "x", "type": "quantitative"}, "y": {"field": "y", "type": "quantitative"}, "detail": {"field": "series"}}}
      ]
    },
    {
      "title": {"text": "H", "dx": -32},
      "width": 176, "height": 125,
      "layer": [
        {"data": {"name": "perm"}, "transform": [{"filter": "datum.panel === 'H'"}],
         "mark": {"type": "point", "filled": true, "size": 14, "opacity": 1},
         "encoding": {
           "x": {"field": "x", "type": "quantitative", "scale": {"domain": [0, 1], "nice": false, "zero": false},
                 "axis": {"values": [0, 0.1, 0.2, 0.3, 0.4, 0.5, 0.6, 0.7, 0.8, 0.9, 1], "tickCount": 40, "format": "~g", "labelOverlap": false, "title": null}},
           "y": {"field": "y", "type": "quantitative", "scale": {"domain": [-4, 1.5], "nice": false, "zero": false},
                 "axis": {"values": [-4, -3.5, -3, -2.5, -2, -1.5, -1, -0.5, 0, 0.5, 1, 1.5], "tickCount": 40, "format": "~g", "labelOverlap": false, "title": "Similarity(Y,Y(perm))"}},
           "color": {"field": "series", "type": "nominal", "scale": {"domain": ["R2Y(cum)", "Q2(cum)"], "range": ["#D94F37", "#1B75BC"]},
                     "legend": {"orient": "none", "legendX": 197, "legendY": 8, "title": null, "direction": "vertical", "symbolSize": 20, "labelOffset": 6, "rowPadding": 1.5}},
           "shape": {"field": "series", "type": "nominal", "scale": {"domain": ["R2Y(cum)", "Q2(cum)"], "range": ["circle", "triangle-up"]},
                     "legend": {"orient": "none", "legendX": 197, "legendY": 8, "title": null, "direction": "vertical", "symbolSize": 20, "labelOffset": 6, "rowPadding": 1.5}}
         }},
        {"data": {"values": [{}]}, "mark": {"type": "rule", "color": "#bdbdbd", "strokeDash": [1, 1], "strokeWidth": 1.3},
         "encoding": {"y": {"datum": 0, "type": "quantitative"}}},
        {"data": {"name": "perm"}, "transform": [{"filter": "datum.panel === 'H'"}],
         "mark": {"type": "point", "filled": true, "size": 14, "opacity": 1},
         "encoding": {"x": {"field": "x", "type": "quantitative"}, "y": {"field": "y", "type": "quantitative"},
                      "color": {"field": "series", "type": "nominal"}, "shape": {"field": "series", "type": "nominal"}}},
        {"data": {"name": "fits"}, "transform": [{"filter": "datum.panel === 'H'"}],
         "mark": {"type": "line", "color": "#6b6b6b", "strokeDash": [4, 3], "strokeWidth": 0.9},
         "encoding": {"x": {"field": "x", "type": "quantitative"}, "y": {"field": "y", "type": "quantitative"}, "detail": {"field": "series"}}}
      ]
    }
  ],
  "config": {
    "view": {"stroke": "#9a9a9a", "strokeWidth": 0.8},
    "axis": {
      "grid": false, "labelFontSize": 4.5, "titleFontSize": 5.5, "titleFontWeight": "bold",
      "tickSize": 2, "labelPadding": 1, "titlePadding": 2, "domainColor": "#9a9a9a", "tickColor": "#666",
      "labelColor": "#222", "titleColor": "#222", "labelFont": "Liberation Sans", "titleFont": "Liberation Sans",
      "labelFlush": false, "labelOverlap": false
    },
    "legend": {"labelFontSize": 4.5, "labelFont": "Liberation Sans", "labelColor": "#222", "symbolSize": 14, "rowPadding": 2, "padding": 0, "symbolStrokeWidth": 0},
    "title": {"font": "Liberation Serif", "fontSize": 11, "fontWeight": "normal", "anchor": "start", "frame": "group", "offset": 4, "color": "#111"}
  }
}
